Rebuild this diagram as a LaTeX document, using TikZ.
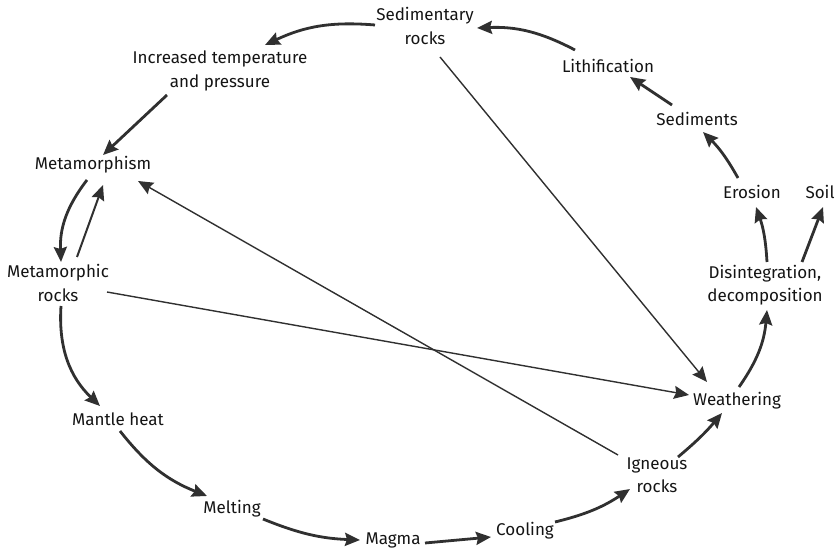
\documentclass[tikz,border=0pt]{standalone}
\usepackage{fontspec}
\setmainfont{Fira Sans}
\usetikzlibrary{arrows.meta,calc}
\definecolor{ink}{HTML}{303030}
\definecolor{txt}{HTML}{141414}
\tikzset{
  lbl/.style={inner sep=0pt, align=center, text=txt, font=\fontsize{17}{23.5}\selectfont},
  flow/.style={draw=ink, line width=2.8pt, -{Stealth[length=15pt,width=13pt,inset=2pt]}},
  mid/.style={draw=ink, line width=2pt, -{Stealth[length=15pt,width=13pt,inset=2pt]}},
  link/.style={draw=ink, line width=1.4pt, -{Stealth[length=15pt,width=13pt,inset=2pt]}}
}
\begin{document}
\begin{tikzpicture}[x=1pt,y=1pt]
\useasboundingbox (0,0) rectangle (837,551);
% rock cycle stages
\node[lbl] (sed)    at (425,525) {Sedimentary\\rocks};
\node[lbl] (inc)    at (220,480) {Increased temperature\\and pressure};
\node[lbl] (meta)   at (93,386)  {Metamorphism};
\node[lbl] (mrocks) at (58,268)  {Metamorphic\\rocks};
\node[lbl] (mantle) at (118,132) {Mantle heat};
\node[lbl] (melt)   at (232,42)  {Melting};
\node[lbl] (magma)  at (393,11)  {Magma};
\node[lbl] (cool)   at (525,20)  {Cooling};
\node[lbl] (ign)    at (657,76)  {Igneous\\rocks};
\node[lbl] (weath)  at (737,150) {Weathering};
\node[lbl] (disint) at (765,266) {Disintegration,\\decomposition};
\node[lbl] (eros)   at (752,359) {Erosion};
\node[lbl] (soil)   at (820,359) {Soil};
\node[lbl] (sedim)  at (697,432) {Sediments};
\node[lbl] (lith)   at (608,485) {Lithification};
% main cycle
\draw[flow] ($(sed)+(-50,1)$) to[bend right=15] ($(inc)+(45,26)$);
\draw[flow] ($(inc)+(-53,-24)$) -- ($(meta)+(10,10)$);
\draw[flow] ($(meta)+(-6,-15)$) to[bend right=20] ($(mrocks)+(3,21)$);
\draw[mid]  ($(mrocks)+(19,26)$) -- ($(meta)+(10,-20)$);
\draw[flow] ($(mrocks)+(3,-23)$) to[bend right=25] ($(mantle)+(-18,13)$);
\draw[flow] ($(mantle)+(2,-12)$) to[bend right=15] ($(melt)+(-25,13)$);
\draw[flow] ($(melt)+(31,-10)$) to[bend right=10] ($(magma)+(-33,0)$);
\draw[flow] ($(magma)+(32,-3)$) -- ($(cool)+(-34,-6)$);
\draw[flow] ($(cool)+(30,9)$) to[bend right=10] ($(ign)+(-27,-14)$);
\draw[flow] ($(ign)+(21,18)$) to[bend right=5] ($(weath)+(-15,-12)$);
\draw[flow] ($(weath)+(2,14)$) to[bend right=15] ($(disint)+(2,-25)$);
\draw[flow] ($(disint)+(2,23)$) to[bend right=8] ($(eros)+(4,-15)$);
\draw[flow] ($(disint)+(37,23)$) -- ($(soil)+(3,-15)$);
\draw[flow] ($(eros)+(-14,14)$) to[bend right=8] ($(sedim)+(6,-13)$);
\draw[flow] ($(sedim)+(-25,14)$) -- ($(lith)+(22,-11)$);
\draw[flow] ($(lith)+(-33,16)$) to[bend right=15] ($(sed)+(52,-2)$);
% shortcuts across the cycle
\draw[link] ($(sed)+(15,-31)$) -- ($(weath)+(-30,19)$);
\draw[link] ($(ign)+(-39,20)$) -- ($(meta)+(45,-16)$);
\draw[link] ($(mrocks)+(49,-9)$) -- ($(weath)+(-48,6)$);
\end{tikzpicture}
\end{document}
